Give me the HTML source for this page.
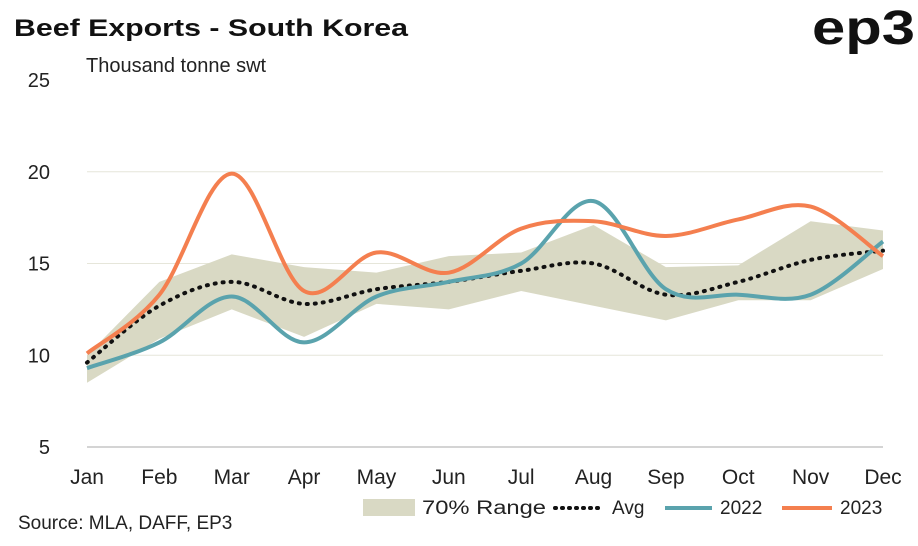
<!DOCTYPE html>
<html><head><meta charset="utf-8"><style>
body{margin:0;background:#fff;font-family:"Liberation Sans",sans-serif;}
svg text{font-family:"Liberation Sans",sans-serif;}
</style></head><body>
<svg id="c" width="918" height="541" xmlns="http://www.w3.org/2000/svg">
<text x="14" y="36" font-size="24" font-weight="bold" fill="#111" textLength="394" lengthAdjust="spacingAndGlyphs">Beef Exports - South Korea</text>
<text x="812" y="44" font-size="48" font-weight="bold" fill="#111" textLength="103" lengthAdjust="spacingAndGlyphs">ep3</text>
<text x="86" y="72" font-size="20" fill="#222">Thousand tonne swt</text>
<text x="18" y="529" font-size="19" fill="#222">Source: MLA, DAFF, EP3</text>
<g id="grid"></g><g id="marks"></g><g id="labels"></g>
<g>
<rect x="363" y="499" width="52" height="17" fill="#d9d9c4"/>
<text x="422" y="514" font-size="19" fill="#222" textLength="124" lengthAdjust="spacingAndGlyphs">70% Range</text>
<line x1="555" y1="508" x2="600" y2="508" stroke="#111" stroke-width="4" stroke-dasharray="1,6" stroke-linecap="round"/>
<text x="612" y="514" font-size="19" fill="#222">Avg</text>
<line x1="665" y1="508" x2="712" y2="508" stroke="#5aa3ad" stroke-width="4"/>
<text x="720" y="514" font-size="19" fill="#222">2022</text>
<line x1="782" y1="508" x2="832" y2="508" stroke="#f47f4f" stroke-width="4"/>
<text x="840" y="514" font-size="19" fill="#222">2023</text>
</g>
</svg>
<script>
const months=["Jan","Feb","Mar","Apr","May","Jun","Jul","Aug","Sep","Oct","Nov","Dec"];
const yTicks=[5,10,15,20,25];
const s2023=[10.1,13.3,19.9,13.5,15.6,14.5,16.9,17.3,16.5,17.4,18.1,15.4];
const s2022=[9.3,10.7,13.2,10.7,13.2,14.0,15.0,18.4,13.6,13.3,13.3,16.2];
const avg=[9.6,12.7,14.0,12.8,13.6,14.0,14.6,15.0,13.3,14.0,15.2,15.7];
const rangeHi=[10.0,14.0,15.5,14.8,14.5,15.4,15.6,17.1,14.8,14.9,17.3,16.8];
const rangeLo=[8.5,10.9,12.5,11.0,12.8,12.5,13.5,12.7,11.9,13.0,13.0,14.7];
const NS="http://www.w3.org/2000/svg";
const X=i=>87+i*(883-87)/11;
const Y=v=>447-(v-5)*(447-80)/20;
function mk(t,a,p){const e=document.createElementNS(NS,t);for(const k in a)e.setAttribute(k,a[k]);document.getElementById(p).appendChild(e);return e;}
function smooth(pts){let d="M"+pts[0][0]+","+pts[0][1];for(let i=0;i<pts.length-1;i++){const p0=pts[Math.max(0,i-1)],p1=pts[i],p2=pts[i+1],p3=pts[Math.min(pts.length-1,i+2)];const t=6;d+=" C"+(p1[0]+(p2[0]-p0[0])/t)+","+(p1[1]+(p2[1]-p0[1])/t)+" "+(p2[0]-(p3[0]-p1[0])/t)+","+(p2[1]-(p3[1]-p1[1])/t)+" "+p2[0]+","+p2[1];}return d;}
yTicks.forEach(v=>{
 if(v!==25){
 const l=mk("line",{x1:87,x2:883,y1:Y(v),y2:Y(v),stroke:v===5?"#aaa":"#e6e6da","stroke-width":1},"grid");
 
 
 }
 const t=mk("text",{x:50,y:Y(v)+7,"font-size":20,fill:"#222","text-anchor":"end"},"labels");t.textContent=v;
 
 
});
months.forEach((m,i)=>{
 const t=mk("text",{x:X(i),y:484,"font-size":21,fill:"#222","text-anchor":"middle"},"labels");t.textContent=m;
 
 
});
const hi=rangeHi.map((v,i)=>[X(i),Y(v)]),lo=rangeLo.map((v,i)=>[X(i),Y(v)]);
let d="M"+hi.map(p=>p.join(",")).join(" L")+" L"+lo.reverse().map(p=>p.join(",")).join(" L")+"Z";
const band=mk("path",{d:d,fill:"#d9d9c4"},"marks");


const a=mk("path",{d:smooth(avg.map((v,i)=>[X(i),Y(v)])),fill:"none",stroke:"#111","stroke-width":4,"stroke-dasharray":"1,7","stroke-linecap":"round"},"marks");


const l2=mk("path",{d:smooth(s2022.map((v,i)=>[X(i),Y(v)])),fill:"none",stroke:"#5aa3ad","stroke-width":4},"marks");


const l3=mk("path",{d:smooth(s2023.map((v,i)=>[X(i),Y(v)])),fill:"none",stroke:"#f47f4f","stroke-width":4},"marks");


</script>
</body></html>
